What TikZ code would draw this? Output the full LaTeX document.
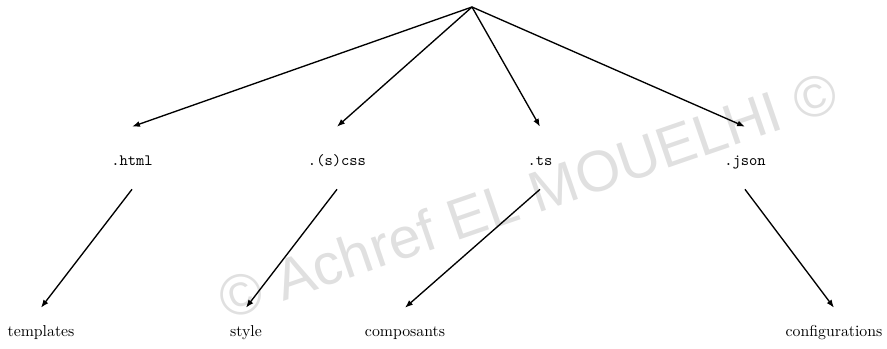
\documentclass[tikz,border=0pt]{standalone}
\usepackage{fontspec}
\newfontfamily\markfont{Liberation Sans}
\usetikzlibrary{arrows.meta}
\begin{document}
% one unit = 0.633pt, y axis pointing down
\begin{tikzpicture}[x=0.633pt,y=-0.633pt,
  link/.style={line width=0.85pt,-{Latex[length=5pt,width=3.8pt]}},
  ext/.style={font=\ttfamily,inner sep=0pt,anchor=base,text height=24.05pt,text depth=15.2pt},
  role/.style={inner sep=0pt,anchor=base,text height=17.7pt,text depth=3pt}]
\useasboundingbox (0,0) rectangle (887,349);

% copyright mark in the background
\node[text=black!12,font=\markfont\fontsize{36.5}{40}\selectfont,rotate=19,inner sep=0pt]
  (wm) at (528,195) {© Achref EL MOUELHI ©};

\coordinate (root) at (472,7);

\node[ext] (html) at (132,165) {.html};
\node[ext] (css)  at (337,165) {.(s)css};
\node[ext] (ts)   at (540,165) {.ts};
\node[ext] (json) at (745,165) {.json};

\node[role] (tpl)  at (41,336)  {templates};
\node[role] (sty)  at (246,336) {style};
\node[role] (comp) at (405,336) {composants};
\node[role] (conf) at (834,336) {configurations};

\draw[link] (root) -- (html.north);
\draw[link] (root) -- (css.north);
\draw[link] (root) -- (ts.north);
\draw[link] (root) -- (json.north);

\draw[link] (html.south) -- (tpl.north);
\draw[link] (css.south)  -- (sty.north);
\draw[link] (ts.south)   -- (comp.north);
\draw[link] (json.south) -- (conf.north);
\end{tikzpicture}
\end{document}
